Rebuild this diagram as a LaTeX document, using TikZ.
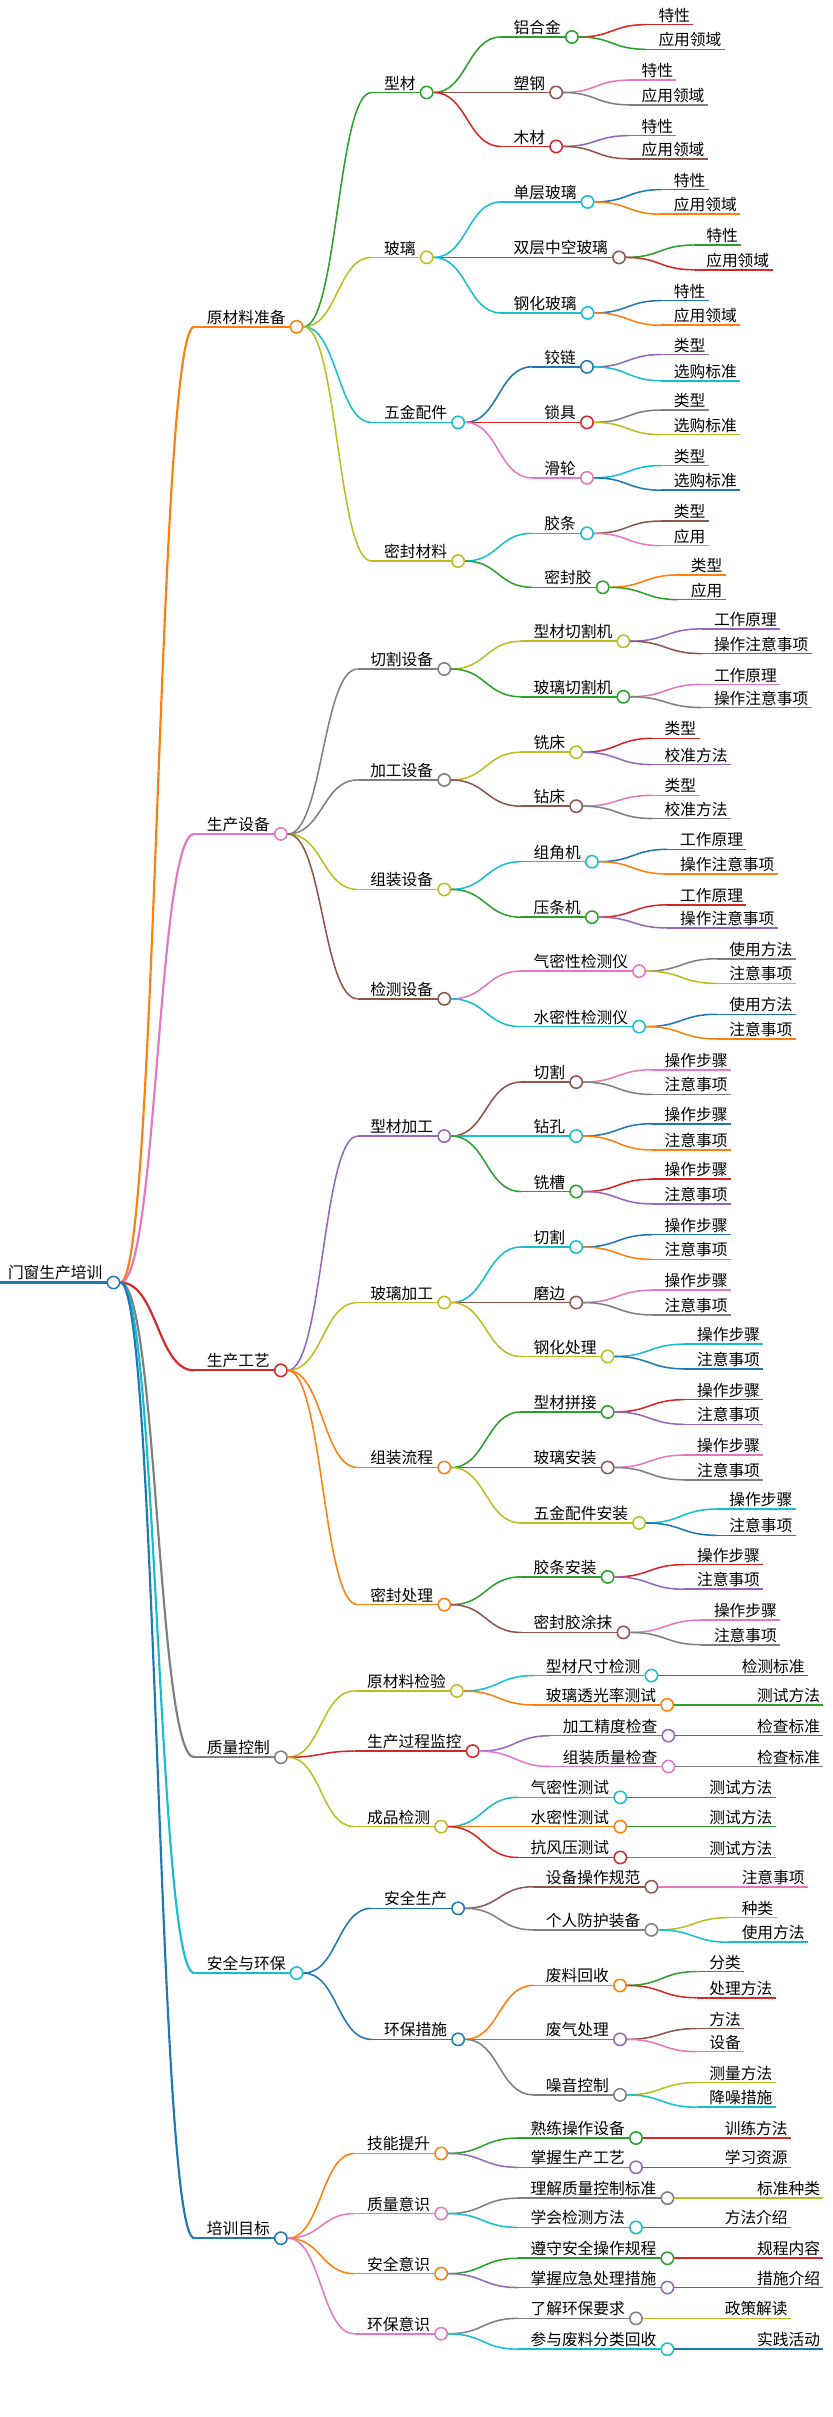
\documentclass[tikz,border=0pt]{standalone}
\usepackage{fontspec}
\newfontfamily\cjk{Noto Sans CJK SC}
\usetikzlibrary{calc}
\definecolor{cO}{HTML}{FF7F0E}
\definecolor{cG}{HTML}{2CA02C}
\definecolor{cR}{HTML}{D62728}
\definecolor{cB}{HTML}{8C564B}
\definecolor{cP}{HTML}{E377C2}
\definecolor{cY}{HTML}{7F7F7F}
\definecolor{cL}{HTML}{BCBD22}
\definecolor{cC}{HTML}{17BECF}
\definecolor{cD}{HTML}{1F77B4}
\definecolor{cU}{HTML}{9467BD}
\tikzset{
 lbl/.style={anchor=south west,inner xsep=0pt,inner ysep=1.2pt,font=\cjk\fontsize{10.2}{11}\selectfont},
 circ/.style={circle,minimum size=8pt,inner sep=0pt,fill=white,line width=1pt},
 ln/.style={line width=1pt}
}
\newcommand\conn[3]{% parent, child, color
 \path (#1c.east) coordinate (P) ($(#2.south west)+(-8,0)$) coordinate (Q);
 \path ($(P)!0.5!(Q)$) coordinate (M);
 \draw[#3,ln] (P) .. controls (M|-P) and (M|-Q) .. (Q);
}
\newcommand\mm[6]{%
 \node[lbl] (#1) at (#3,-#4) {#5};
 \conn{#2}{#1}{#6}
 \draw[#6,ln] ($(#1.south west)+(-8,0)$) -- ($(#1.south east)+(3,0)$);
 \node[circ,draw=#6] (#1c) at ($(#1.south east)+(7,0)$) {};
}
\newcommand\lf[6]{%
 \node[lbl] (#1) at (#3,-#4) {#5};
 \conn{#2}{#1}{#6}
 \draw[#6,ln] ($(#1.south west)+(-8,0)$) -- ($(#1.south east)+(2,0)$);
}
\begin{document}
\begin{tikzpicture}[x=1pt,y=1pt]
\useasboundingbox (0,0) rectangle (540,-1568);
\node[lbl] (r) at (5,-832) {门窗生产培训};
\draw[cD,line width=2pt] (0,-832) -- ($(r.south east)+(3,0)$);
\node[circ,draw=cD] (rc) at ($(r.south east)+(7,0)$) {};
\tikzset{ln/.style={line width=1.4pt}}
\mm{a}{r}{134}{212}{原材料准备}{cO}
\mm{b}{r}{134}{541}{生产设备}{cP}
\mm{c}{r}{134}{889}{生产工艺}{cR}
\mm{d}{r}{134}{1140}{质量控制}{cY}
\mm{e}{r}{134}{1280}{安全与环保}{cC}
\mm{f}{r}{134}{1452}{培训目标}{cD}
\tikzset{ln/.style={line width=1pt}}
% A
\mm{a1}{a}{249}{60}{型材}{cG}
\mm{a11}{a1}{333}{24}{铝合金}{cG}
\lf{a111}{a11}{427}{16}{特性}{cR}
\lf{a112}{a11}{427}{32}{应用领域}{cG}
\mm{a12}{a1}{333}{60}{塑钢}{cB}
\lf{a121}{a12}{416}{52}{特性}{cP}
\lf{a122}{a12}{416}{68}{应用领域}{cY}
\mm{a13}{a1}{333}{95}{木材}{cR}
\lf{a131}{a13}{416}{88}{特性}{cU}
\lf{a132}{a13}{416}{103}{应用领域}{cB}
\mm{a2}{a}{249}{167}{玻璃}{cL}
\mm{a21}{a2}{333}{131}{单层玻璃}{cC}
\lf{a211}{a21}{437}{123}{特性}{cD}
\lf{a212}{a21}{437}{139}{应用领域}{cO}
\mm{a22}{a2}{333}{167}{双层中空玻璃}{cB}
\lf{a221}{a22}{458}{159}{特性}{cG}
\lf{a222}{a22}{458}{175}{应用领域}{cR}
\mm{a23}{a2}{333}{203}{钢化玻璃}{cC}
\lf{a231}{a23}{437}{195}{特性}{cD}
\lf{a232}{a23}{437}{211}{应用领域}{cO}
\mm{a3}{a}{249}{274}{五金配件}{cC}
\mm{a31}{a3}{353}{238}{铰链}{cD}
\lf{a311}{a31}{437}{230}{类型}{cU}
\lf{a312}{a31}{437}{247}{选购标准}{cC}
\mm{a32}{a3}{353}{274}{锁具}{cR}
\lf{a321}{a32}{437}{266}{类型}{cY}
\lf{a322}{a32}{437}{282}{选购标准}{cL}
\mm{a33}{a3}{353}{310}{滑轮}{cP}
\lf{a331}{a33}{437}{302}{类型}{cC}
\lf{a332}{a33}{437}{318}{选购标准}{cD}
\mm{a4}{a}{249}{364}{密封材料}{cL}
\mm{a41}{a4}{353}{346}{胶条}{cC}
\lf{a411}{a41}{437}{338}{类型}{cB}
\lf{a412}{a41}{437}{354}{应用}{cP}
\mm{a42}{a4}{353}{381}{密封胶}{cG}
\lf{a421}{a42}{448}{373}{类型}{cO}
\lf{a422}{a42}{448}{389}{应用}{cG}
% B
\mm{b1}{b}{240}{434}{切割设备}{cY}
\mm{b11}{b1}{346}{416}{型材切割机}{cL}
\lf{b111}{b11}{463}{408}{工作原理}{cU}
\lf{b112}{b11}{463}{424}{操作注意事项}{cB}
\mm{b12}{b1}{346}{452}{玻璃切割机}{cG}
\lf{b121}{b12}{463}{444}{工作原理}{cP}
\lf{b122}{b12}{463}{459}{操作注意事项}{cY}
\mm{b2}{b}{240}{506}{加工设备}{cY}
\mm{b21}{b2}{346}{488}{铣床}{cL}
\lf{b211}{b21}{431}{479}{类型}{cR}
\lf{b212}{b21}{431}{496}{校准方法}{cU}
\mm{b22}{b2}{346}{523}{钻床}{cB}
\lf{b221}{b22}{431}{516}{类型}{cP}
\lf{b222}{b22}{431}{531}{校准方法}{cY}
\mm{b3}{b}{240}{577}{组装设备}{cL}
\mm{b31}{b3}{346}{559}{组角机}{cC}
\lf{b311}{b31}{441}{551}{工作原理}{cD}
\lf{b312}{b31}{441}{567}{操作注意事项}{cO}
\mm{b32}{b3}{346}{595}{压条机}{cG}
\lf{b321}{b32}{441}{587}{工作原理}{cR}
\lf{b322}{b32}{441}{602}{操作注意事项}{cU}
\mm{b4}{b}{240}{648}{检测设备}{cB}
\mm{b41}{b4}{346}{630}{气密性检测仪}{cP}
\lf{b411}{b41}{473}{622}{使用方法}{cY}
\lf{b412}{b41}{473}{638}{注意事项}{cL}
\mm{b42}{b4}{346}{666}{水密性检测仪}{cC}
\lf{b421}{b42}{473}{658}{使用方法}{cD}
\lf{b422}{b42}{473}{674}{注意事项}{cO}
% C
\mm{c1}{c}{240}{737}{型材加工}{cU}
\mm{c11}{c1}{346}{702}{切割}{cB}
\lf{c111}{c11}{431}{694}{操作步骤}{cP}
\lf{c112}{c11}{431}{710}{注意事项}{cY}
\mm{c12}{c1}{346}{737}{钻孔}{cC}
\lf{c121}{c12}{431}{729}{操作步骤}{cD}
\lf{c122}{c12}{431}{746}{注意事项}{cO}
\mm{c13}{c1}{346}{773}{铣槽}{cG}
\lf{c131}{c13}{431}{765}{操作步骤}{cR}
\lf{c132}{c13}{431}{781}{注意事项}{cU}
\mm{c2}{c}{240}{845}{玻璃加工}{cL}
\mm{c21}{c2}{346}{809}{切割}{cC}
\lf{c211}{c21}{431}{801}{操作步骤}{cD}
\lf{c212}{c21}{431}{817}{注意事项}{cO}
\mm{c22}{c2}{346}{845}{磨边}{cB}
\lf{c221}{c22}{431}{837}{操作步骤}{cP}
\lf{c222}{c22}{431}{853}{注意事项}{cY}
\mm{c23}{c2}{346}{880}{钢化处理}{cL}
\lf{c231}{c23}{452}{872}{操作步骤}{cC}
\lf{c232}{c23}{452}{888}{注意事项}{cD}
\mm{c3}{c}{240}{952}{组装流程}{cO}
\mm{c31}{c3}{346}{916}{型材拼接}{cG}
\lf{c311}{c31}{452}{908}{操作步骤}{cR}
\lf{c312}{c31}{452}{924}{注意事项}{cU}
\mm{c32}{c3}{346}{952}{玻璃安装}{cB}
\lf{c321}{c32}{452}{944}{操作步骤}{cP}
\lf{c322}{c32}{452}{960}{注意事项}{cY}
\mm{c33}{c3}{346}{988}{五金配件安装}{cL}
\lf{c331}{c33}{473}{979}{操作步骤}{cC}
\lf{c332}{c33}{473}{996}{注意事项}{cD}
\mm{c4}{c}{240}{1041}{密封处理}{cO}
\mm{c41}{c4}{346}{1023}{胶条安装}{cG}
\lf{c411}{c41}{452}{1015}{操作步骤}{cR}
\lf{c412}{c41}{452}{1031}{注意事项}{cU}
\mm{c42}{c4}{346}{1059}{密封胶涂抹}{cB}
\lf{c421}{c42}{463}{1051}{操作步骤}{cP}
\lf{c422}{c42}{463}{1067}{注意事项}{cY}
% D
\mm{d1}{d}{238}{1097}{原材料检验}{cL}
\mm{d11}{d1}{354}{1087}{型材尺寸检测}{cC}
\lf{d111}{d11}{481}{1087}{检测标准}{cD}
\mm{d12}{d1}{354}{1106}{玻璃透光率测试}{cO}
\lf{d121}{d12}{491}{1106}{测试方法}{cG}
\mm{d2}{d}{238}{1136}{生产过程监控}{cR}
\mm{d21}{d2}{365}{1126}{加工精度检查}{cU}
\lf{d211}{d21}{491}{1126}{检查标准}{cB}
\mm{d22}{d2}{365}{1146}{组装质量检查}{cP}
\lf{d221}{d22}{491}{1146}{检查标准}{cY}
\mm{d3}{d}{238}{1185}{成品检测}{cL}
\mm{d31}{d3}{344}{1166}{气密性测试}{cC}
\lf{d311}{d31}{460}{1166}{测试方法}{cD}
\mm{d32}{d3}{344}{1185}{水密性测试}{cO}
\lf{d321}{d32}{460}{1185}{测试方法}{cG}
\mm{d33}{d3}{344}{1205}{抗风压测试}{cR}
\lf{d331}{d33}{460}{1205}{测试方法}{cU}
% E
\mm{e1}{e}{249}{1238}{安全生产}{cD}
\mm{e11}{e1}{354}{1224}{设备操作规范}{cB}
\lf{e111}{e11}{481}{1224}{注意事项}{cP}
\mm{e12}{e1}{354}{1252}{个人防护装备}{cY}
\lf{e121}{e12}{481}{1244}{种类}{cL}
\lf{e122}{e12}{481}{1260}{使用方法}{cC}
\mm{e2}{e}{249}{1323}{环保措施}{cD}
\mm{e21}{e2}{354}{1288}{废料回收}{cO}
\lf{e211}{e21}{460}{1279}{分类}{cG}
\lf{e212}{e21}{460}{1296}{处理方法}{cR}
\mm{e22}{e2}{354}{1323}{废气处理}{cU}
\lf{e221}{e22}{460}{1316}{方法}{cB}
\lf{e222}{e22}{460}{1331}{设备}{cP}
\mm{e23}{e2}{354}{1359}{噪音控制}{cY}
\lf{e231}{e23}{460}{1351}{测量方法}{cL}
\lf{e232}{e23}{460}{1367}{降噪措施}{cC}
% F
\mm{f1}{f}{238}{1397}{技能提升}{cO}
\mm{f11}{f1}{344}{1387}{熟练操作设备}{cG}
\lf{f111}{f11}{470}{1387}{训练方法}{cR}
\mm{f12}{f1}{344}{1406}{掌握生产工艺}{cU}
\lf{f121}{f12}{470}{1406}{学习资源}{cB}
\mm{f2}{f}{238}{1436}{质量意识}{cP}
\mm{f21}{f2}{344}{1426}{理解质量控制标准}{cY}
\lf{f211}{f21}{491}{1426}{标准种类}{cL}
\mm{f22}{f2}{344}{1445}{学会检测方法}{cC}
\lf{f221}{f22}{470}{1445}{方法介绍}{cD}
\mm{f3}{f}{238}{1475}{安全意识}{cO}
\mm{f31}{f3}{344}{1465}{遵守安全操作规程}{cG}
\lf{f311}{f31}{491}{1465}{规程内容}{cR}
\mm{f32}{f3}{344}{1484}{掌握应急处理措施}{cU}
\lf{f321}{f32}{491}{1484}{措施介绍}{cB}
\mm{f4}{f}{238}{1514}{环保意识}{cP}
\mm{f41}{f4}{344}{1504}{了解环保要求}{cY}
\lf{f411}{f41}{470}{1504}{政策解读}{cL}
\mm{f42}{f4}{344}{1524}{参与废料分类回收}{cC}
\lf{f421}{f42}{491}{1524}{实践活动}{cD}
\end{tikzpicture}
\end{document}
